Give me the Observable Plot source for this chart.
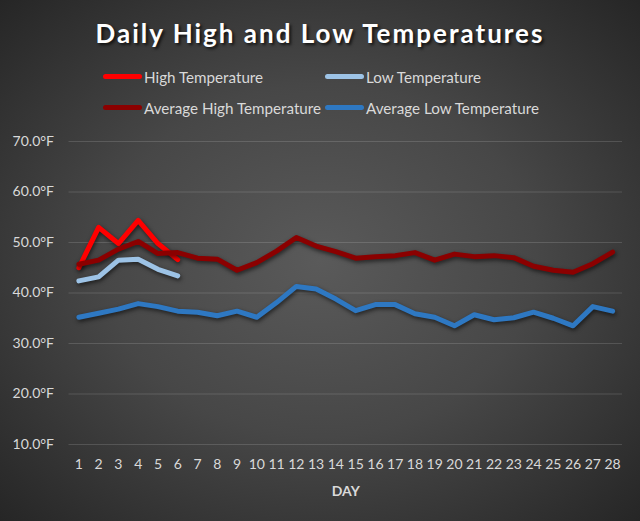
<!DOCTYPE html>
<html>
<head>
<meta charset="utf-8">
<script src="https://cdn.jsdelivr.net/npm/d3@7"></script>
<script src="https://cdn.jsdelivr.net/npm/@observablehq/plot@0.6"></script>
<style>
  html, body { margin: 0; padding: 0; background: #2a2a2a; }
  #chart {
    position: relative; width: 640px; height: 521px; overflow: hidden;
    background: radial-gradient(ellipse 75% 75% at 50% 50%, #5a5a5a 0%, #474747 45%, #2c2c2c 85%, #222 100%);
    font-family: Lato, "Open Sans", sans-serif;
  }
  #title {
    position: absolute; left: 0; width: 640px; top: 19px; text-align: center;
    font-size: 26px; line-height: 28px; font-weight: bold; color: #fff; letter-spacing: 2px;
    text-shadow: 2px 2px 3px rgba(0,0,0,0.7);
  }
  .lg-sw { position: absolute; width: 39px; height: 5px; border-radius: 3px; }
  .lg-tx { position: absolute; font-size: 15.2px; line-height: 20px; color: #d9d9d9; white-space: nowrap; }
  #plot { position: absolute; left: 0; top: 120px; }
</style>
</head>
<body>
<div id="chart">
  <div id="title">Daily High and Low Temperatures</div>
  <div id="legend"></div>
  <div id="plot"></div>
</div>
<script>
const days = [1, 2, 3, 4, 5, 6, 7, 8, 9, 10, 11, 12, 13, 14, 15, 16, 17, 18, 19, 20, 21, 22, 23, 24, 25, 26, 27, 28];
const highTemp = [45.0, 53.0, 49.8, 54.4, 49.8, 46.6];
const lowTemp = [42.4, 43.2, 46.5, 46.7, 44.7, 43.4];
const avgHigh = [45.7, 46.5, 48.7, 50.2, 47.8, 48.0, 46.9, 46.7, 44.5, 46.0, 48.3, 51.0, 49.3, 48.2, 46.9, 47.2, 47.4, 48.0, 46.5, 47.7, 47.2, 47.4, 47.0, 45.3, 44.5, 44.1, 45.8, 48.1];
const avgLow = [35.2, 36.0, 36.8, 37.9, 37.3, 36.4, 36.2, 35.5, 36.4, 35.2, 38.1, 41.3, 40.8, 38.8, 36.5, 37.7, 37.7, 35.9, 35.2, 33.5, 35.7, 34.7, 35.1, 36.2, 35.0, 33.5, 37.3, 36.4];
const yTicks = [10, 20, 30, 40, 50, 60, 70];
const seriesNames = ["High Temperature", "Low Temperature", "Average High Temperature", "Average Low Temperature"];
const seriesColors = ["#ff0000", "#9dc3e6", "#8b0000", "#2e78c2"];

// Legend
const legendPos = [[103, 76.7], [325, 76.7], [103, 107.7], [325, 107.7]];
const legend = document.getElementById("legend");
seriesNames.forEach((name, i) => {
  const [lx, ly] = legendPos[i];
  const sw = document.createElement("div");
  sw.className = "lg-sw";
  sw.style.left = lx + "px"; sw.style.top = (ly - 2.5) + "px"; sw.style.background = seriesColors[i];
  legend.appendChild(sw);
  const tx = document.createElement("div");
  tx.className = "lg-tx";
  tx.style.left = (lx + 41) + "px"; tx.style.top = (ly - 10) + "px";
  tx.textContent = name;
  legend.appendChild(tx);
});

const toRows = (vals) => vals.map((v, i) => ({day: days[i], v}));
const series = [highTemp, lowTemp, avgHigh, avgLow];

const plot = Plot.plot({
  width: 640,
  height: 401,
  marginLeft: 68.5,
  marginRight: 18,
  marginTop: 21,
  marginBottom: 77,
  style: {background: "transparent", color: "#d9d9d9", fontFamily: "Lato, sans-serif", fontSize: "14px", overflow: "visible"},
  x: {type: "linear", domain: [0.5, 28.5], ticks: days, tickFormat: d => String(d), label: null, tickSize: 0, tickPadding: 15},
  y: {domain: [10, 70], ticks: yTicks, tickFormat: d => d.toFixed(1) + "°F", label: null, tickSize: 0, tickPadding: 15},
  marks: [
    Plot.ruleY(yTicks, {stroke: "#ffffff", strokeOpacity: 0.14, strokeWidth: 1.2}),
    ...series.map((vals, i) => Plot.line(toRows(vals), {
      x: "day", y: "v", stroke: seriesColors[i], strokeWidth: 5,
      strokeLinejoin: "round", strokeLinecap: "round"
    })),
    Plot.text(["DAY"], {frameAnchor: "bottom", dy: 47, lineAnchor: "middle", fontWeight: "bold", fontSize: 14, fill: "#d9d9d9"})
  ]
});
plot.querySelectorAll('g[aria-label="line"] path').forEach(p => {
  p.style.filter = "drop-shadow(1px 2px 2px rgba(0,0,0,0.6))";
});
document.getElementById("plot").appendChild(plot);
</script>
</body>
</html>
